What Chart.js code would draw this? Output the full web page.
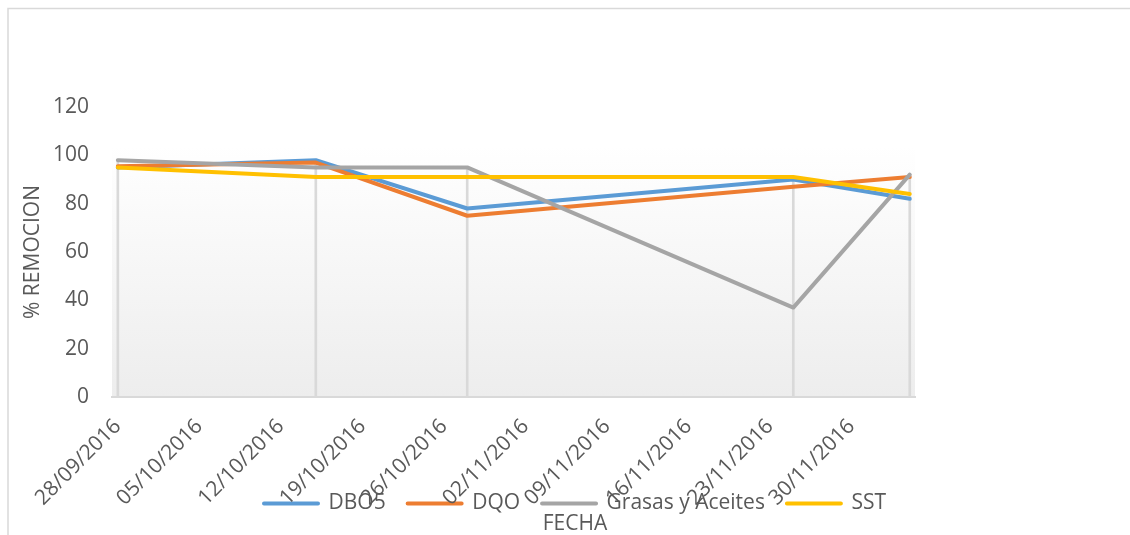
<!DOCTYPE html>
<html>
<head>
<meta charset="utf-8">
<title>% Remoción por fecha</title>
<script src="https://cdn.jsdelivr.net/npm/chart.js@4.4.1/dist/chart.umd.min.js"></script>
<style>
  body { margin: 0; background: #fff; }
  canvas { display: block; }
</style>
</head>
<body>
<canvas id="remocion" width="1130" height="535"></canvas>
<script>
// fechas de muestreo y % de remocion de cada parametro
const fechas = ['28/09/2016', '15/10/2016', '28/10/2016', '25/11/2016', '05/12/2016'];
const dbo5 = [95, 98, 78, 90, 82];
const dqo = [95.5, 97, 75, 87, 91];
const grasas = [98, 95, 95, 37, 92];
const sst = [95, 91, 91, 91, 84];

// etiquetas semanales del eje de fechas
const semanas = ['28/09/2016', '05/10/2016', '12/10/2016', '19/10/2016', '26/10/2016',
                 '02/11/2016', '09/11/2016', '16/11/2016', '23/11/2016', '30/11/2016'];

const gris = '#595959';
Chart.defaults.font.family = "'Open Sans', sans-serif";
Chart.defaults.font.size = 21;
Chart.defaults.color = gris;

// dias transcurridos desde el primer muestreo
function dia(f) {
  const [d, m, a] = f.split('/').map(Number);
  const [d0, m0, a0] = fechas[0].split('/').map(Number);
  return Math.round((Date.UTC(a, m - 1, d) - Date.UTC(a0, m0 - 1, d0)) / 86400000);
}
const puntos = serie => serie.map((v, i) => ({ x: dia(fechas[i]), y: v }));

// lineas de caida: del punto mas alto de cada fecha hasta el eje
const caida = fechas.map((f, i) => ({ x: dia(f), y: Math.max(dbo5[i], dqo[i], grasas[i], sst[i]) }));

// fondo degradado del area de trazado y borde del grafico
const fondo = {
  id: 'fondo',
  beforeDraw(chart) {
    const { ctx, chartArea: a, scales } = chart;
    const tope = scales.y.getPixelForValue(104);
    const g = ctx.createLinearGradient(0, tope, 0, a.bottom);
    g.addColorStop(0, '#ffffff');
    g.addColorStop(1, '#ededed');
    ctx.save();
    ctx.fillStyle = g;
    ctx.fillRect(a.left, tope, a.right - a.left, a.bottom - tope);
    ctx.strokeStyle = '#d9d9d9';
    ctx.lineWidth = 1.5;
    ctx.beginPath();
    ctx.moveTo(8, chart.height);
    ctx.lineTo(8, 8.5);
    ctx.lineTo(chart.width, 8.5);
    ctx.stroke();
    ctx.restore();
  }
};

const linea = (label, data, color, orden) => ({
  label, data: puntos(data), order: orden,
  borderColor: color, backgroundColor: color,
  borderWidth: 4, borderCapStyle: 'round', borderJoinStyle: 'round',
  pointRadius: 0, tension: 0
});

new Chart(document.getElementById('remocion'), {
  type: 'line',
  data: {
    datasets: [
      linea('DBO5', dbo5, '#5B9BD5', 4),
      linea('DQO', dqo, '#ED7D31', 3),
      linea('Grasas y Aceites', grasas, '#A5A5A5', 2),
      linea('SST', sst, '#FFC000', 1),
      {
        type: 'bar', label: 'caida', data: caida, order: 10,
        backgroundColor: '#d9d9d9', barThickness: 2, clip: false
      }
    ]
  },
  options: {
    responsive: false,
    animation: false,
    layout: { padding: { left: 20, right: 0, top: 107, bottom: 0 } },
    scales: {
      x: {
        type: 'linear',
        offset: false,
        min: -0.5,
        max: 68.45,
        grid: { display: false },
        border: { display: true, color: '#d9d9d9', width: 2 },
        afterBuildTicks: s => { s.ticks = semanas.map(f => ({ value: dia(f) })); },
        afterFit: s => {
          // eje bajo: las fechas giradas se montan sobre la leyenda sin recortarse
          s.height = 74;
          s._computeLabelArea = () => undefined;
        },
        ticks: {
          autoSkip: false,
          minRotation: 45,
          maxRotation: 45,
          padding: 9,
          callback: v => semanas.find(f => dia(f) === v) || ''
        }
      },
      y: {
        min: 0,
        max: 120,
        grid: { display: false, drawTicks: false },
        border: { display: false },
        afterFit: s => { s.width = 92; },
        ticks: { stepSize: 20, padding: 23 },
        title: { display: true, text: '% REMOCION', padding: { top: 0, bottom: 0 } }
      },
      derecha: {
        type: 'linear',
        position: 'right',
        grid: { display: false },
        border: { display: false },
        ticks: { display: false },
        afterFit: s => { s.width = 215; }
      }
    },
    plugins: {
      tooltip: { enabled: false },
      legend: {
        position: 'bottom',
        labels: {
          boxWidth: 54,
          boxHeight: 0,
          padding: 22,
          filter: it => it.datasetIndex < 4,
          sort: (a, b) => a.datasetIndex - b.datasetIndex
        }
      },
      title: {
        display: true,
        position: 'bottom',
        text: 'FECHA',
        font: { size: 21, weight: 'normal', lineHeight: 1 },
        padding: { top: -10, bottom: 0 }
      }
    }
  },
  plugins: [fondo]
});
</script>
</body>
</html>
